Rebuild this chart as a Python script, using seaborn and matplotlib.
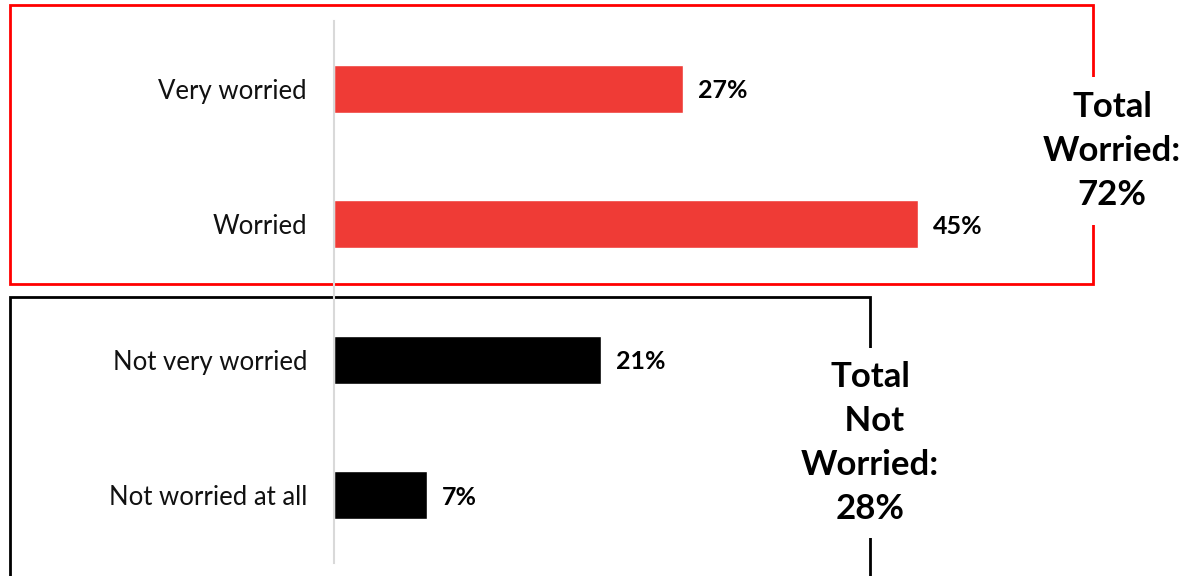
import matplotlib
matplotlib.use("Agg")
import matplotlib.pyplot as plt
import seaborn as sns
import pandas as pd
from matplotlib.patches import Rectangle

categories = ["Very worried", "Worried", "Not very worried", "Not worried at all"]
values = [26.9, 45.0, 20.6, 7.2]
groups = ["worried", "worried", "not", "not"]
group_colors = {"worried": "#EF3B36", "not": "#000000"}
total_worried_text = "Total\nWorried:\n72%"
total_not_text = "Total\n Not\nWorried:\n28%"

sns.set_theme(style="white")
plt.rcParams["font.family"] = ["Lato", "DejaVu Sans"]

W, H = 1187, 576
fig = plt.figure(figsize=(W / 100, H / 100), dpi=100)
fig.patch.set_facecolor("white")

ax_left = 333.5
ax_top = 21
ax_bottom = 563
ax = fig.add_axes([ax_left / W, (H - ax_bottom) / H, (W - ax_left) / W, (ax_bottom - ax_top) / H])
ax.set_facecolor("none")

df = pd.DataFrame({"category": categories, "value": values, "group": groups})
sns.barplot(data=df, x="value", y="category", hue="group", palette=group_colors,
            dodge=False, width=0.354, legend=False, ax=ax, saturation=1)

ax.set_xlim(0, (W - ax_left) / 12.99)
ax.set_ylim(3.5, -0.5)
for c in ax.containers:
    labels = ax.bar_label(c, fmt="{:.0f}%", padding=11, fontsize=18, fontweight="bold",
                          color="black")
    for t in labels:
        t.set_verticalalignment("center_baseline")

ax.set_xlabel("")
ax.set_ylabel("")
ax.set_xticks([])
ax.tick_params(axis="y", length=0, pad=19, labelsize=18.5, labelcolor="#111111")
for s in ["top", "right", "bottom"]:
    ax.spines[s].set_visible(False)
ax.spines["left"].set_color("#D9D9D9")
ax.spines["left"].set_linewidth(1.5)

def fx(px):
    return px / W

def fy(py):
    return 1 - py / H

red_box = Rectangle((fx(10), fy(284)), fx(1093) - fx(10), fy(5) - fy(284),
                    transform=fig.transFigure, fill=False, edgecolor="#FF0000",
                    linewidth=2, zorder=-1)
black_box = Rectangle((fx(10), fy(600)), fx(870) - fx(10), fy(297) - fy(600),
                      transform=fig.transFigure, fill=False, edgecolor="#000000",
                      linewidth=2, zorder=-1)
fig.patches.extend([red_box, black_box])

fig.text(fx(1112), fy(151), total_worried_text, ha="center", va="center",
         fontsize=25, fontweight="bold", linespacing=1.45, color="black",
         bbox=dict(facecolor="white", edgecolor="none", pad=10))
fig.text(fx(870), fy(443), total_not_text, ha="center", va="center",
         fontsize=25, fontweight="bold", linespacing=1.45, color="black",
         bbox=dict(facecolor="white", edgecolor="none", pad=10))

fig.savefig("out.png", dpi=100)
